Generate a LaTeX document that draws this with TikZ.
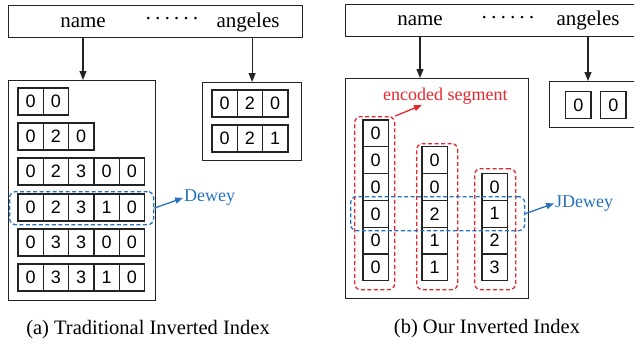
\documentclass[tikz,border=0pt]{standalone}
\usepackage{fontspec}
\setmainfont{Liberation Serif}
\newfontfamily\digitfont{Liberation Sans}
\usetikzlibrary{arrows.meta}
\definecolor{segred}{RGB}{232,38,45}
\definecolor{dewblue}{RGB}{38,113,188}
\definecolor{ink}{RGB}{35,35,35}
\newcommand\cellrow[4]{%
  \foreach \v [count=\i] in {#4} {
    \node[cell] (#1-\i) at ({#2+(\i-0.5)*25.3}, {#3+13.5}) {\v};
  }}
\newcommand\cellcol[4]{%
  \foreach \v [count=\i] in {#4} {
    \node[vcell] (#1-\i) at ({#2+12.65}, {#3+(\i-0.5)*26.8}) {\v};
  }}
\begin{document}
\begin{tikzpicture}[x=1pt,y=-1pt,
  cell/.style={draw=ink, line width=1.2pt, minimum width=25.3pt, minimum height=27pt,
    inner sep=0pt, font=\digitfont\fontsize{18}{18}\selectfont},
  vcell/.style={cell, minimum height=26.8pt},
  frame/.style={draw=ink, line width=1.2pt, anchor=north west, inner sep=0pt},
  lbl/.style={inner sep=0pt, anchor=base, font=\fontsize{21}{21}\selectfont},
  dotlbl/.style={inner sep=0pt, font=\fontsize{21}{21}\selectfont},
  captxt/.style={inner sep=0pt, anchor=base, font=\fontsize{20.5}{20.5}\selectfont},
  note/.style={inner sep=0pt, anchor=base west, font=\fontsize{18}{18}\selectfont},
  arr/.style={draw=ink, line width=1.2pt, -{Triangle[length=9pt,width=7pt]}},
  dashbox/.style={line width=1.3pt, dash pattern=on 4pt off 2.5pt, rounded corners=6pt,
    anchor=north west, inner sep=0pt},
  redbox/.style={dashbox, draw=segred},
  bluebox/.style={dashbox, draw=dewblue},
  bluearr/.style={draw=dewblue, line width=1.3pt, -{Triangle[length=8pt,width=6pt]}, shorten >=1pt},
  redarr/.style={draw=segred, line width=1.3pt, -{Triangle[length=8pt,width=6pt]}},
]
\useasboundingbox (0,0) rectangle (634,343);

% ---------- (a) ----------
\node[frame, minimum width=294pt, minimum height=32pt] (topL) at (8,5) {};
\node[lbl] (nameL) at (83,27) {name};
\node[dotlbl] (dotsL) at (172,21) {·\kern2.5pt·\kern2.5pt·\kern2.5pt·\kern2.5pt·\kern2.5pt·};
\node[lbl] (angL) at (248,27) {angeles};

\node[frame, minimum width=147pt, minimum height=220pt] (boxL) at (8,80) {};
\node[frame, minimum width=99pt, minimum height=78pt] (boxLs) at (202,82) {};

\draw[arr] (topL.south -| nameL) -- (boxL.north -| nameL);
\draw[arr] (topL.south -| boxLs.north) -- (boxLs.north);

\cellrow{ra}{18}{88}{0,0}
\cellrow{rb}{18}{123}{0,2,0}
\cellrow{rc}{18}{158}{0,2,3,0,0}
\cellrow{rd}{18}{194}{0,2,3,1,0}
\cellrow{re}{18}{229}{0,3,3,0,0}
\cellrow{rf}{18}{264}{0,3,3,1,0}

\cellrow{sa}{212}{90}{0,2,0}
\cellrow{sb}{212}{125}{0,2,1}

\node[bluebox, minimum width=144pt, minimum height=33pt] (dewBox) at (9,191) {};
\node[note, text=dewblue] (dewText) at (184,201.5) {Dewey};
\draw[bluearr] (dewBox.east) -- (dewText.west);

\node[captxt] (capA) at (148,334) {(a) Traditional Inverted Index};

% ---------- (b) ----------
\node[frame, minimum width=320pt, minimum height=32pt] (topR) at (345,4) {};
\node[lbl] (nameR) at (420,25.5) {name};
\node[dotlbl] (dotsR) at (508,20) {·\kern2.5pt·\kern2.5pt·\kern2.5pt·\kern2.5pt·\kern2.5pt·};
\node[lbl] (angR) at (588,25.5) {angeles};

\node[frame, minimum width=183pt, minimum height=220pt] (boxR) at (345,78) {};
\node[frame, minimum width=120pt, minimum height=46pt] (boxRs) at (549,81) {};

\draw[arr] (topR.south -| nameR) -- (boxR.north -| nameR);
\draw[arr] (topR.south -| angR) -- (boxRs.north -| angR);

\node[cell, anchor=north west] (ta-1) at (565,91) {0};
\node[cell, anchor=north west] (ta-2) at (600,91) {0};

\cellcol{ca}{363}{120}{0,0,0,0,0,0}
\cellcol{cb}{422}{146.8}{0,0,2,1,1}
\cellcol{cc}{482}{173.6}{0,1,2,3}

\node[redbox, minimum width=40pt, minimum height=173pt] (seg1) at (354,116) {};
\node[redbox, minimum width=41pt, minimum height=146pt] (seg2) at (416,143) {};
\node[redbox, minimum width=41pt, minimum height=121pt] (seg3) at (474,168) {};

\node[note, text=segred] (encText) at (383,100) {encoded segment};
\coordinate (encTip) at (422,105);
\draw[redarr] (seg1.north east) -- (encTip);

\node[bluebox, minimum width=174pt, minimum height=34pt] (jdBox) at (350,196) {};
\node[note, text=dewblue] (jdText) at (555,207) {JDewey};
\draw[bluearr] (jdBox.east) -- (jdText.west);

\node[captxt] (capB) at (487,333) {(b) Our Inverted Index};
\end{tikzpicture}
\end{document}
